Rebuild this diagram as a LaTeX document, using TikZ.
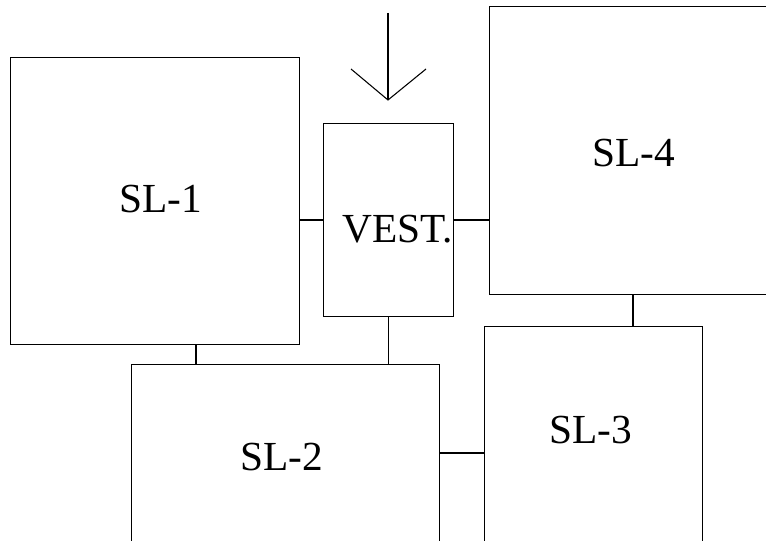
\documentclass[tikz,border=0pt]{standalone}
\usepackage{fontspec}
\setmainfont{Liberation Serif}
\begin{document}
\begin{tikzpicture}[x=0.75pt,y=-0.75pt,
  box/.style={draw=black,line width=0.8pt,rectangle,inner sep=0pt,anchor=north west},
  lab/.style={anchor=base,inner sep=0pt,font=\fontsize{31}{37}\selectfont},
  conn/.style={draw=black,line width=0.8pt}]
\useasboundingbox (0,0) rectangle (766,541);
\clip (0,0) rectangle (766,541);
% boxes
\node[box,minimum width=289*0.75pt,minimum height=287*0.75pt] (sl1) at (10,57) {};
\node[box,minimum width=130*0.75pt,minimum height=193*0.75pt] (vest) at (323,123) {};
\node[box,minimum width=290*0.75pt,minimum height=288*0.75pt] (sl4) at (489,6) {};
\node[box,minimum width=308*0.75pt,minimum height=190*0.75pt] (sl2) at (131,364) {};
\node[box,minimum width=218*0.75pt,minimum height=230*0.75pt] (sl3) at (484,326) {};
% labels
\node[lab] (t1) at (160.5,213) {SL-1};
\node[lab] (tv) at (398,243) {VEST.};
\node[lab] (t4) at (634,167) {SL-4};
\node[lab] (t2) at (282,470) {SL-2};
\node[lab] (t3) at (591,443) {SL-3};
% connectors
\draw[conn] (vest.west) -- (vest.west -| sl1.east);
\draw[conn] (vest.east) -- (vest.east -| sl4.west);
\coordinate (c12) at (196,344);
\draw[conn] (c12) -- (c12 |- sl2.north);
\draw[conn] (vest.south) -- (vest.south |- sl2.north);
\coordinate (c43) at (633,294);
\draw[conn] (c43) -- (c43 |- sl3.north);
\coordinate (c23) at (439,453);
\draw[conn] (c23) -- (c23 -| sl3.west);
% entrance arrow
\coordinate (atop) at (388,13);
\coordinate (atip) at (388,100);
\coordinate (al) at (351,69);
\coordinate (ar) at (426,69);
\draw[conn] (atop) -- (atip);
\draw[conn] (al) -- (atip) -- (ar);
\end{tikzpicture}
\end{document}
